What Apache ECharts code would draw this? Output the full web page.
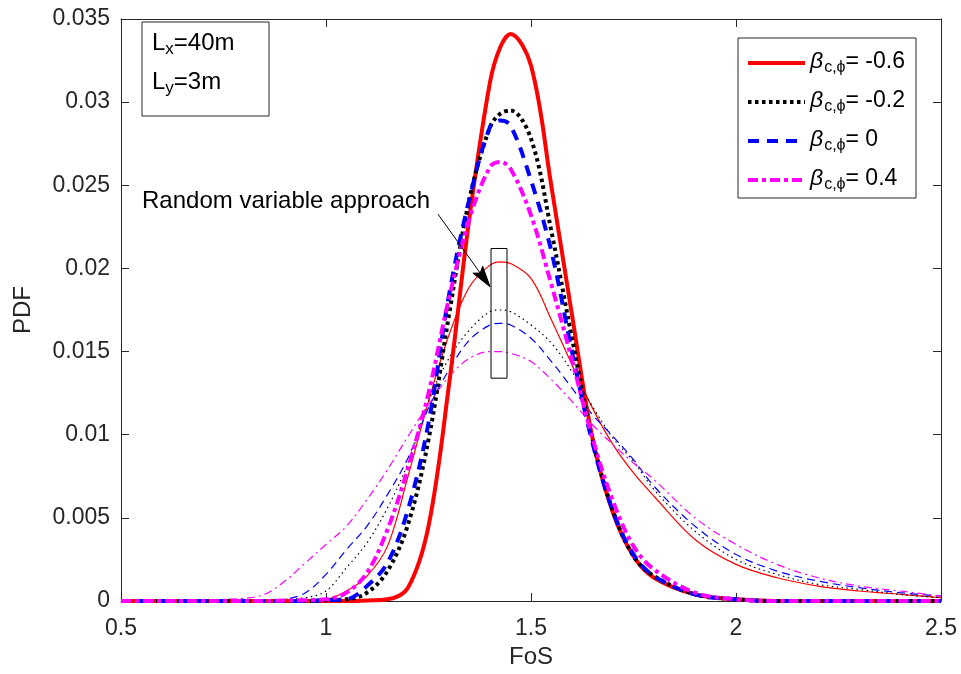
<!DOCTYPE html>
<html><head><meta charset="utf-8">
<script src="https://cdn.jsdelivr.net/npm/echarts@6/dist/echarts.min.js"></script>
<style>html,body{margin:0;padding:0;background:#fff}#c{width:961px;height:674px}</style>
</head><body><div id="c"></div>
<script>
// ---- data ----
const fos = [0.5,0.6,0.7,0.75,0.8,0.85,0.9,0.95,1.0,1.05,1.1,1.15,1.2,1.25,1.3,1.35,1.4,1.425,1.45,1.5,1.55,1.6,1.65,1.7,1.75,1.8,1.9,2.0,2.1,2.2,2.3,2.4,2.5];
const corrValues = ['-0.6','-0.2','0','0.4'];
// random field (thick curves)
const fieldM06 = [0,0,0,0,0,0,0,0,0,0,0.00003,0.0001,0.0008,0.0045,0.0130,0.0231,0.0312,0.0333,0.0341,0.0322,0.0249,0.0172,0.0098,0.0053,0.0027,0.0014,0.0004,0.0001,0,0,0,0,0];
const fieldM02 = [0,0,0,0,0,0,0,0,0.00005,0.0001,0.0005,0.0018,0.0046,0.0097,0.0172,0.0242,0.0285,0.0293,0.0295,0.0278,0.0222,0.0158,0.0097,0.0054,0.0027,0.0015,0.0004,0.0001,0,0,0,0,0];
const field0   = [0,0,0,0,0,0,0,0,0.00005,0.0001,0.0009,0.0023,0.0055,0.0107,0.0184,0.0242,0.0285,0.0289,0.0286,0.0253,0.0210,0.0150,0.0095,0.0054,0.0028,0.0015,0.0004,0.0001,0,0,0,0,0];
const field04  = [0,0,0,0,0,0,0.00003,0.00005,0.0001,0.0005,0.0017,0.0043,0.0080,0.0125,0.0182,0.0230,0.0261,0.0264,0.0260,0.0232,0.0190,0.0145,0.0098,0.0060,0.0033,0.0019,0.0005,0.0001,0,0,0,0,0];
// random variable approach (thin curves)
const varM06 = [0,0,0,0,0,0,0.00003,0.00005,0.0001,0.0006,0.0015,0.0033,0.0075,0.0120,0.0160,0.0189,0.0202,0.0204,0.0203,0.0194,0.0169,0.0142,0.0116,0.0094,0.0077,0.0063,0.0037,0.0022,0.0014,0.0009,0.0006,0.0004,0.0002];
const varM02 = [0,0,0,0,0,0.00003,0.0001,0.0002,0.0006,0.0020,0.0035,0.0056,0.0083,0.0120,0.0146,0.0163,0.0174,0.0175,0.0174,0.0166,0.0155,0.0138,0.0117,0.0098,0.0084,0.0067,0.0042,0.0025,0.0016,0.0010,0.0007,0.0004,0.0002];
const var0   = [0,0,0,0,0,0.00003,0.0001,0.0005,0.0016,0.0031,0.0045,0.0064,0.0086,0.0116,0.0139,0.0157,0.0166,0.0167,0.0166,0.0158,0.0144,0.0128,0.0112,0.0099,0.0085,0.0069,0.0045,0.0028,0.0018,0.0012,0.0008,0.0005,0.0003];
const var04  = [0,0,0.00005,0.0001,0.00016,0.0004,0.0012,0.0023,0.0034,0.0045,0.0061,0.0079,0.0099,0.0118,0.0135,0.0146,0.0150,0.0150,0.0149,0.0144,0.0133,0.0120,0.0106,0.0094,0.0083,0.0073,0.0050,0.0034,0.0022,0.0014,0.0009,0.0006,0.0003];
const xTicks = {min:0.5, max:2.5, step:0.5};
const yTicks = {min:0, max:0.035, step:0.005};
// annotation anchors (data coordinates)
const annoRect = [[1.4025, 0.0212],[1.4415, 0.0134]];
const annoArrow = [[1.273, 0.02327],[1.4, 0.0189]];

// ---- chart ----
const font = '"Liberation Sans", Arial, Helvetica, sans-serif';
const ink = '#262626';
const chart = echarts.init(document.getElementById('c'), null, {renderer:'canvas'});
const pairs = ys => fos.map((x,i)=>[x, ys[i]]);
const thick = [fieldM06, fieldM02, field0, field04];
const thin = [varM06, varM02, var0, var04];
const colors = ['#ff0000','#000000','#0000ff','#ff00ff'];
const thickDash = ['solid',[3.5,3.5],[11,8],[10,4,4,4]];
const thinDash = ['solid',[1.5,3.5],[8,5],[8,4,2,4]];

const series = [];
thin.forEach((ys,i)=>series.push({
  type:'line', name:'RV '+corrValues[i], data:pairs(ys), smooth:0.35, symbol:'none',
  lineStyle:{color:colors[i], width:1.2, type:thinDash[i], cap:'butt'}, z:3, silent:true
}));
thick.forEach((ys,i)=>series.push({
  type:'line', name:corrValues[i], data:pairs(ys), smooth:0.35, symbol:'none',
  itemStyle:{color:colors[i]},
  lineStyle:{color:colors[i], width:4, type:thickDash[i], cap:'butt'}, z:4, silent:true
}));

const axisCommon = {
  axisLine:{show:true, onZero:false, lineStyle:{color:ink, width:1}},
  axisTick:{show:true, inside:true, length:8, lineStyle:{color:ink, width:1}},
  splitLine:{show:false}
};
chart.setOption({
  animation:false,
  backgroundColor:'#fff',
  grid:{left:121, right:20, top:19, bottom:73, containLabel:false},
  xAxis:[
    Object.assign({type:'value', min:xTicks.min, max:xTicks.max, interval:xTicks.step, position:'bottom',
      name:'FoS', nameLocation:'middle', nameGap:42,
      nameTextStyle:{fontSize:24, color:ink, fontFamily:font},
      axisLabel:{fontSize:23, color:ink, fontFamily:font, margin:16}}, axisCommon),
    Object.assign({type:'value', min:xTicks.min, max:xTicks.max, interval:xTicks.step, position:'top',
      axisLabel:{show:false}}, axisCommon)
  ],
  yAxis:[
    Object.assign({type:'value', min:yTicks.min, max:yTicks.max, interval:yTicks.step, position:'left',
      name:'PDF', nameLocation:'middle', nameGap:86,
      nameTextStyle:{fontSize:24, color:ink, fontFamily:font},
      axisLabel:{fontSize:23, color:ink, fontFamily:font, margin:11, formatter:v=>String(+v.toFixed(3))}}, axisCommon),
    Object.assign({type:'value', min:yTicks.min, max:yTicks.max, interval:yTicks.step, position:'right',
      axisLabel:{show:false}}, axisCommon)
  ],
  legend:{
    data:corrValues, orient:'vertical', left:738, top:38, padding:[6,11,5,8],
    itemGap:7, itemWidth:57, itemHeight:14,
    itemStyle:{opacity:0},
    lineStyle:{width:4},
    borderColor:ink, borderWidth:1, backgroundColor:'#fff', borderRadius:0,
    selectedMode:false,
    formatter:n=>'{b|β}{s|c,ϕ}{t|= '+n+'}',
    textStyle:{fontFamily:font, color:'#000', rich:{
      b:{fontSize:23, fontStyle:'italic', fontFamily:font, lineHeight:26, verticalAlign:'top', color:'#000'},
      s:{fontSize:16, fontFamily:font, lineHeight:16, padding:[16,0,0,1], verticalAlign:'bottom', color:'#000'},
      t:{fontSize:23, fontFamily:font, lineHeight:26, verticalAlign:'top', color:'#000'}
    }}
  },
  series:series
});

// ---- annotations ----
const toPx = p => chart.convertToPixel({xAxisIndex:0, yAxisIndex:0}, p);
const r0 = toPx(annoRect[0]), r1 = toPx(annoRect[1]);
const a0 = toPx(annoArrow[0]), a1 = toPx(annoArrow[1]);
const dx = a1[0]-a0[0], dy = a1[1]-a0[1], len = Math.hypot(dx,dy);
const ux = dx/len, uy = dy/len, nx = -uy, ny = ux;
const headL = 21, headW = 6;
const base = [a1[0]-ux*headL, a1[1]-uy*headL];
const notch = [a1[0]-ux*headL*0.8, a1[1]-uy*headL*0.8];
const subRich = {
  m:{fontSize:24, fontFamily:font, lineHeight:27, verticalAlign:'top', fill:'#000'},
  s:{fontSize:17, fontFamily:font, lineHeight:17, padding:[14,0,0,0], verticalAlign:'bottom', fill:'#000'}
};
chart.setOption({graphic:[
  {type:'rect', z:100, shape:{x:142, y:22, width:127, height:94}, style:{fill:'#fff', stroke:ink, lineWidth:1}},
  {type:'text', z:101, x:152, y:31, style:{text:'{m|L}{s|x}{m|=40m}', rich:subRich, align:'left', verticalAlign:'top', fill:'#000'}},
  {type:'text', z:101, x:152, y:70, style:{text:'{m|L}{s|y}{m|=3m}', rich:subRich, align:'left', verticalAlign:'top', fill:'#000'}},
  {type:'text', z:101, x:142, y:201, style:{text:'Random variable approach', fontSize:24, fontFamily:font, fill:'#000', align:'left', verticalAlign:'middle'}},
  {type:'rect', z:100, shape:{x:r0[0], y:r0[1], width:r1[0]-r0[0], height:r1[1]-r0[1]}, style:{fill:'none', stroke:'#000', lineWidth:1}},
  {type:'line', z:100, shape:{x1:a0[0], y1:a0[1], x2:notch[0], y2:notch[1]}, style:{stroke:'#000', lineWidth:1}},
  {type:'polygon', z:100, shape:{points:[a1, [base[0]+nx*headW, base[1]+ny*headW], notch, [base[0]-nx*headW, base[1]-ny*headW]]}, style:{fill:'#000', stroke:'#000', lineWidth:1}}
]});
</script>
</body></html>
